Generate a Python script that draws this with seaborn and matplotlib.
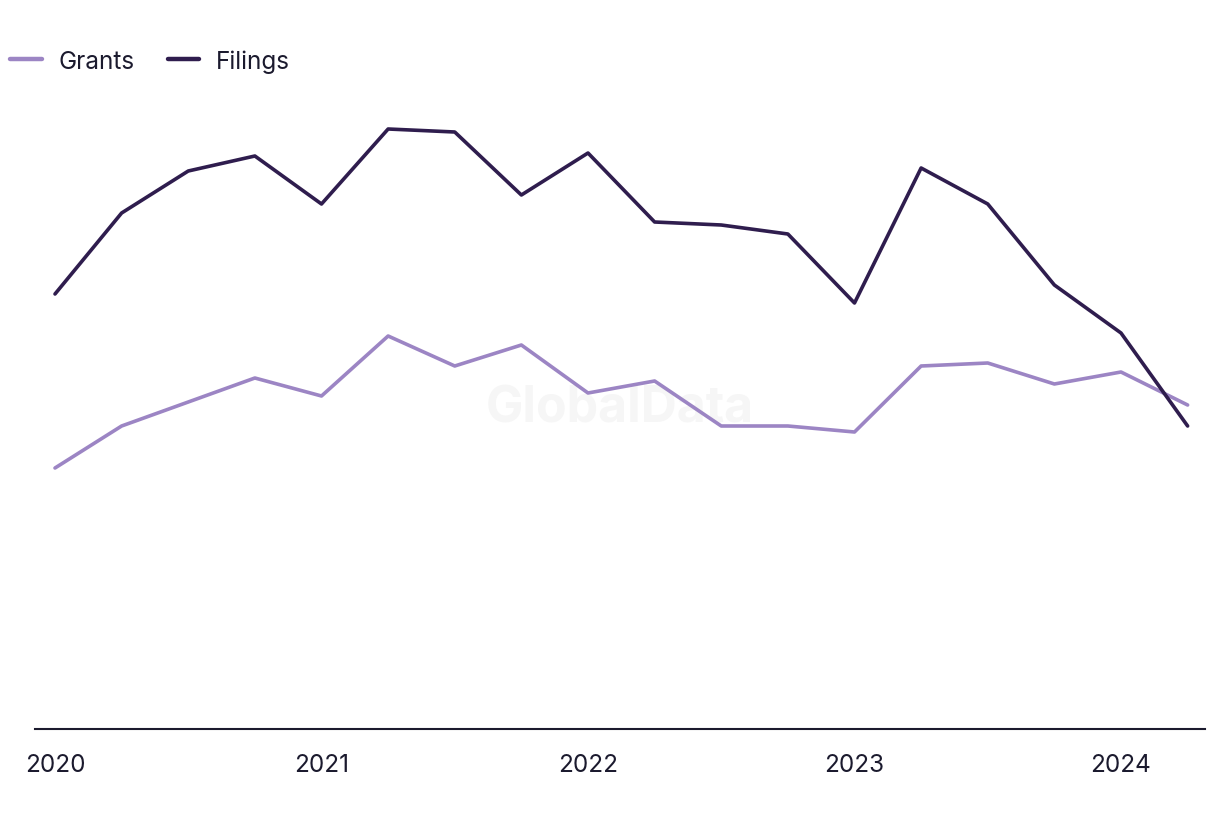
import numpy as np
import pandas as pd
import seaborn as sns
import matplotlib.pyplot as plt

quarters = [2020.0, 2020.25, 2020.5, 2020.75, 2021.0, 2021.25, 2021.5, 2021.75,
            2022.0, 2022.25, 2022.5, 2022.75, 2023.0, 2023.25, 2023.5, 2023.75,
            2024.0, 2024.25]
filings = [145, 172, 186, 191, 175, 200, 199, 178, 192, 169, 168, 165, 142, 187, 175, 148, 132, 101]
grants = [87, 101, 109, 117, 111, 131, 121, 128, 112, 116, 101, 101, 99, 121, 122, 115, 119, 108]
series_names = ["Grants", "Filings"]
tick_years = [2020, 2021, 2022, 2023, 2024]

df = pd.DataFrame({
    "quarter": quarters * 2,
    "value": grants + filings,
    "series": ["Grants"] * len(grants) + ["Filings"] * len(filings),
})

sns.set_theme(style="white")
plt.rcParams['font.family'] = ['Inter', 'DejaVu Sans']

fig = plt.figure(figsize=(12.2, 8.2), dpi=100)
ax = fig.add_axes([35 / 1220, 1 - 730 / 820, 1170 / 1220, 630 / 820])

palette = {"Grants": "#9c85c4", "Filings": "#2f1d4e"}
sns.lineplot(data=df, x="quarter", y="value", hue="series", hue_order=series_names,
             palette=palette, linewidth=2.6, ax=ax, legend=True)

ax.set_xlim(2020 - 20 / 266.5, 2020 + 1150 / 266.5)
ax.set_ylim(0, 210)
ax.set_xticks(tick_years)
ax.set_xticklabels([str(y) for y in tick_years])
ax.set_yticks([])
ax.set_xlabel("")
ax.set_ylabel("")
for s in ["top", "right", "left"]:
    ax.spines[s].set_visible(False)
ax.spines["bottom"].set_color("#1b1a2e")
ax.spines["bottom"].set_linewidth(1.5)
ax.tick_params(axis="x", length=0, pad=17, labelsize=17.5, labelcolor="#1b1a2e")

ax.text(0.5, 0.51, "GlobalData", transform=ax.transAxes, ha="center", va="center",
        fontsize=36, fontweight="bold", color="#f6f6f6", zorder=0)

handles, labels = ax.get_legend_handles_labels()
leg = fig.legend(handles, labels, loc="center left", bbox_to_anchor=(10 / 1220, 1 - 62 / 820),
                 ncol=2, frameon=False, fontsize=17.5, handlelength=1.3,
                 columnspacing=1.35, handletextpad=0.7, borderaxespad=0, borderpad=0,
                 labelcolor="#1b1a2e")
for line in leg.get_lines():
    line.set_linewidth(3.2)
ax.get_legend().remove()

fig.savefig("out.png", dpi=100)
